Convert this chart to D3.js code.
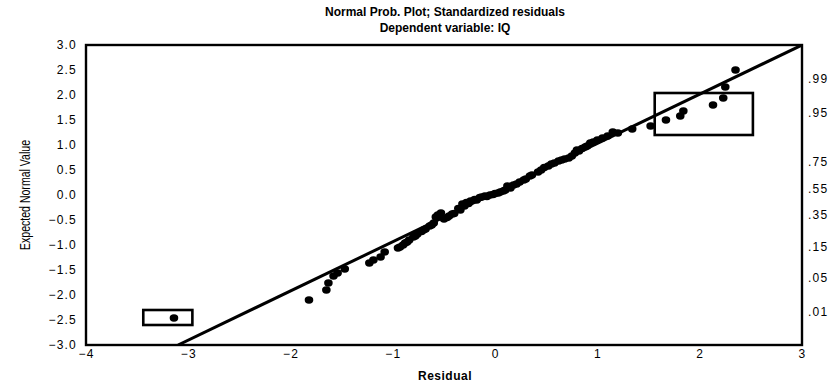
<!DOCTYPE html>
<html>
<head>
<meta charset="utf-8">
<script src="https://cdn.jsdelivr.net/npm/d3@7"></script>
<style>
  body { margin: 0; background: #fff; }
  text { font-family: "Liberation Sans", Arial, sans-serif; }
</style>
</head>
<body>
<svg id="drawing_region"></svg>
<script>
// residual vs expected normal value
const residuals = [
  -3.14, -1.82, -1.65, -1.63, -1.58, -1.54, -1.47, -1.23, -1.19, -1.12, -1.08,
  -0.95, -0.93, -0.90, -0.88, -0.86, -0.84, -0.80, -0.78, -0.76, -0.72, -0.70,
  -0.68, -0.64, -0.62, -0.60, -0.58, -0.56, -0.53, -0.50, -0.47, -0.45, -0.42,
  -0.40, -0.36, -0.34, -0.32, -0.30, -0.28, -0.26, -0.24, -0.20, -0.18, -0.15,
  -0.13, -0.10, -0.08, -0.05, -0.02, 0.00, 0.03, 0.05, 0.08, 0.10, 0.12,
  0.15, 0.18, 0.21, 0.24, 0.28, 0.30, 0.34, 0.36, 0.42, 0.45, 0.48, 0.52,
  0.55, 0.58, 0.62, 0.65, 0.68, 0.72, 0.75, 0.78, 0.80, 0.82, 0.85, 0.88,
  0.90, 0.93, 0.96, 1.00, 1.05, 1.10, 1.15, 1.20, 1.34, 1.52, 1.67, 1.81,
  1.84, 2.13, 2.23, 2.25, 2.35
];
const expected = [
  -2.46, -2.10, -1.90, -1.76, -1.62, -1.56, -1.48, -1.36, -1.30, -1.24, -1.14,
  -1.06, -1.04, -1.00, -0.96, -0.94, -0.90, -0.84, -0.82, -0.78, -0.73, -0.70,
  -0.68, -0.62, -0.60, -0.56, -0.44, -0.40, -0.36, -0.48, -0.45, -0.42, -0.38,
  -0.37, -0.27, -0.30, -0.18, -0.22, -0.15, -0.17, -0.12, -0.09, -0.10, -0.05,
  -0.04, -0.02, -0.03, 0.00, 0.01, 0.03, 0.04, 0.06, 0.08, 0.10, 0.18,
  0.14, 0.20, 0.22, 0.26, 0.30, 0.32, 0.38, 0.40, 0.46, 0.50, 0.55, 0.58,
  0.62, 0.64, 0.68, 0.70, 0.72, 0.74, 0.78, 0.84, 0.90, 0.88, 0.93, 0.96,
  0.98, 1.04, 1.06, 1.10, 1.14, 1.18, 1.26, 1.24, 1.32, 1.38, 1.50, 1.58,
  1.68, 1.80, 1.94, 2.16, 2.50
];

const xTicks = [-4, -3, -2, -1, 0, 1, 2, 3];
const yTicks = [3.0, 2.5, 2.0, 1.5, 1.0, 0.5, 0.0, -0.5, -1.0, -1.5, -2.0, -2.5, -3.0];
const probLabels = [".99", ".95", ".75", ".55", ".35", ".15", ".05", ".01"];
const probZ = [2.326, 1.645, 0.674, 0.126, -0.385, -1.036, -1.645, -2.326];

// fitted line end points (residual, expected)
const fitX = [-3.1, 3.0];
const fitY = [-3.0, 3.0];

// highlight boxes: [x0, x1, y0, y1]
const boxes = [
  [-3.44, -2.96, -2.30, -2.60],
  [1.56, 2.52, 2.04, 1.20]
];

const config = {
  width: 840,
  height: 385,
  margin: {top: 45, right: 38, bottom: 40, left: 86}
};

const svg = d3.select('#drawing_region')
  .attr('width', config.width)
  .attr('height', config.height);

const inner_width = config.width - config.margin.left - config.margin.right;
const inner_height = config.height - config.margin.top - config.margin.bottom;

const chart = svg.append('g')
  .attr('transform', `translate(${config.margin.left}, ${config.margin.top})`);

const xscale = d3.scaleLinear().domain([-4, 3]).range([0, inner_width]);
const yscale = d3.scaleLinear().domain([-3, 3]).range([inner_height, 0]);

// axes (labels only, no tick marks)
const xaxis = d3.axisBottom(xscale).tickValues(xTicks).tickSize(0).tickPadding(4)
  .tickFormat(d3.format('d'));
const yaxis = d3.axisLeft(yscale).tickValues(yTicks).tickSize(0).tickPadding(9)
  .tickFormat(d3.format('.1f'));
const raxis = d3.axisRight(yscale).tickValues(probZ).tickSize(0).tickPadding(6)
  .tickFormat((d, i) => probLabels[i]);

function styleAxis(g) {
  g.select('.domain').remove();
  g.selectAll('text')
    .attr('font-family', '"Liberation Sans", Arial, sans-serif')
    .attr('font-size', 12)
    .attr('letter-spacing', 1.2)
    .attr('fill', '#000');
}

chart.append('g')
  .attr('transform', `translate(0, ${inner_height})`)
  .call(xaxis).call(styleAxis);
chart.append('g').call(yaxis).call(styleAxis);
chart.append('g')
  .attr('transform', `translate(${inner_width}, 0)`)
  .call(raxis).call(styleAxis);

// clip for the fitted line
svg.append('clipPath').attr('id', 'plotclip')
  .append('rect')
  .attr('width', inner_width).attr('height', inner_height);

chart.append('line')
  .attr('clip-path', 'url(#plotclip)')
  .attr('x1', xscale(fitX[0])).attr('y1', yscale(fitY[0]))
  .attr('x2', xscale(fitX[1])).attr('y2', yscale(fitY[1]))
  .attr('stroke', '#000').attr('stroke-width', 3);

// points
chart.selectAll('ellipse')
  .data(residuals)
  .enter()
  .append('ellipse')
  .attr('cx', d => xscale(d))
  .attr('cy', (d, i) => yscale(expected[i]))
  .attr('rx', 4.3)
  .attr('ry', 3.7)
  .attr('fill', '#000');

// highlight rectangles
chart.selectAll('rect.box')
  .data(boxes)
  .enter()
  .append('rect')
  .attr('class', 'box')
  .attr('x', d => xscale(d[0]))
  .attr('y', d => yscale(Math.max(d[2], d[3])))
  .attr('width', d => xscale(d[1]) - xscale(d[0]))
  .attr('height', d => Math.abs(yscale(d[2]) - yscale(d[3])))
  .attr('fill', 'none')
  .attr('stroke', '#000')
  .attr('stroke-width', 2.6);

// frame
chart.append('rect')
  .attr('width', inner_width)
  .attr('height', inner_height)
  .attr('fill', 'none')
  .attr('stroke', '#000')
  .attr('stroke-width', 2.4);

// titles
svg.append('text')
  .attr('x', 445).attr('y', 16)
  .attr('text-anchor', 'middle')
  .attr('font-size', 12).attr('font-weight', 'bold')
  .text('Normal Prob. Plot; Standardized residuals');
svg.append('text')
  .attr('x', 445).attr('y', 32)
  .attr('text-anchor', 'middle')
  .attr('font-size', 12).attr('font-weight', 'bold')
  .text('Dependent variable: IQ');

svg.append('text')
  .attr('x', 445).attr('y', 380)
  .attr('text-anchor', 'middle')
  .attr('font-size', 12).attr('font-weight', 'bold')
  .attr('letter-spacing', 0.5)
  .text('Residual');

svg.append('text')
  .attr('transform', `translate(30, ${config.margin.top + yscale(0)}) rotate(-90)`)
  .attr('text-anchor', 'middle')
  .attr('font-size', 14)
  .attr('textLength', 110)
  .attr('lengthAdjust', 'spacingAndGlyphs')
  .text('Expected Normal Value');
</script>
</body>
</html>
